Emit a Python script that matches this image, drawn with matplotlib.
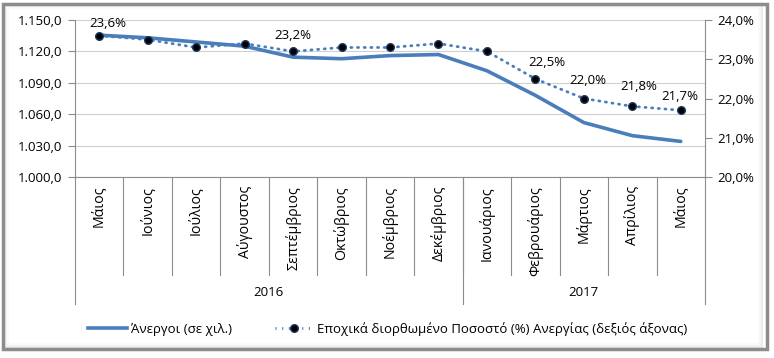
import numpy as np
import matplotlib.pyplot as plt
from matplotlib.patches import Rectangle
from matplotlib.lines import Line2D
from matplotlib.ticker import FuncFormatter

plt.rcParams['font.family'] = ['Open Sans', 'DejaVu Sans']

months = ['Μάιος', 'Ιούνιος', 'Ιούλιος', 'Αύγουστος', 'Σεπτέμβριος', 'Οκτώβριος',
          'Νοέμβριος', 'Δεκέμβριος', 'Ιανουάριος', 'Φεβρουάριος', 'Μάρτιος',
          'Απρίλιος', 'Μάιος']
years = ['2016', '2017']
year_counts = [8, 5]
unemployed = [1135.5, 1133.0, 1129.0, 1125.0, 1114.5, 1113.0, 1116.0, 1117.0,
              1101.5, 1078.0, 1052.0, 1039.5, 1034.0]
rate = [23.6, 23.5, 23.3, 23.4, 23.2, 23.3, 23.3, 23.4, 23.2, 22.5, 22.0, 21.8, 21.7]
labeled = [0, 4, 9, 10, 11, 12]
legend_names = ['Άνεργοι (σε χιλ.)',
                'Εποχικά διορθωμένο Ποσοστό (%) Ανεργίας (δεξιός άξονας)']

blue = '#4a7ebb'
fs = 9.5
dots = (0, (0.4, 2.0))

fig = plt.figure(figsize=(7.74, 3.58), dpi=100)
W, H = 774.0, 358.0

# frame with a soft shadow
for i, c in enumerate(['#e6e6e6', '#eeeeee', '#f5f5f5', '#fafafa']):
    fig.patches.append(Rectangle(((5 + i) / W, 1 - (347 - i) / H), (757 - 2 * i) / W,
                                 (342 - 2 * i) / H, transform=fig.transFigure,
                                 fill=False, ec=c, lw=1.2))
fig.patches.append(Rectangle((3.5 / W, 1 - 348.5 / H), 763 / W, 345 / H,
                             transform=fig.transFigure, fill=False, ec='#8c8c8c', lw=2.5))

ax = fig.add_axes([75 / W, 1 - 177 / H, 630 / W, 157 / H])
x = np.arange(len(months))
ax.plot(x, unemployed, color=blue, lw=2.6, solid_capstyle='round', zorder=3)
ax.set_xlim(-0.5, len(months) - 0.5)
ax.set_ylim(1000, 1150)
ax.set_yticks(np.arange(1000, 1151, 30))
ax.yaxis.set_major_formatter(FuncFormatter(
    lambda v, p: '{:,.1f}'.format(v).replace(',', 'X').replace('.', ',').replace('X', '.')))
ax.grid(axis='y', color='#d0d0d0', lw=0.8)
ax.set_axisbelow(True)
for s in ['top', 'right']:
    ax.spines[s].set_visible(False)
ax.spines['left'].set_color('#8c8c8c')
ax.spines['bottom'].set_color('#8c8c8c')
ax.tick_params(axis='y', colors='#8c8c8c', labelcolor='black', labelsize=fs, length=5, pad=4)
ax.set_xticks([])

ax2 = ax.twinx()
ax2.plot(x, rate, color=blue, lw=2, ls=dots, dash_capstyle='round',
         marker='o', ms=5.5, mfc='black', mec='#1f3864', mew=1, zorder=4)
ax2.set_ylim(20, 24)
ax2.set_yticks(np.arange(20, 24.01, 1))
ax2.yaxis.set_major_formatter(FuncFormatter(lambda v, p: '{:.1f}%'.format(v).replace('.', ',')))
for s in ['top', 'left', 'bottom']:
    ax2.spines[s].set_visible(False)
ax2.spines['right'].set_color('#8c8c8c')
ax2.tick_params(axis='y', colors='#8c8c8c', labelcolor='black', labelsize=fs, length=5, pad=4)
ax2.set_xlim(ax.get_xlim())

offsets = [(9, 12), (0, 16), (11, 16), (4, 18), (6, 20), (-1, 14)]
for i, off in zip(labeled, offsets):
    ax2.annotate('{:.1f}%'.format(rate[i]).replace('.', ','), (x[i], rate[i]),
                 xytext=off, textcoords='offset pixels', ha='center', va='center',
                 fontsize=fs, zorder=5)

# category labels and separators below the axis
tr = ax.get_xaxis_transform()
px = 1.0 / 157
for i, m in enumerate(months):
    ax.text(x[i], -9 * px, m, rotation=90, ha='center', va='top', fontsize=10.2,
            transform=tr, clip_on=False)
for i in range(1, len(months)):
    ax.plot([i - 0.5, i - 0.5], [0, -98 * px], color='#8c8c8c', lw=0.8,
            transform=tr, clip_on=False)
start = 0
bounds = [-0.5]
for yname, n in zip(years, year_counts):
    ax.text(start + (n - 1) / 2, -116 * px, yname, ha='center', va='center',
            fontsize=fs, transform=tr, clip_on=False)
    start += n
    bounds.append(start - 0.5)
for b in bounds:
    ax.plot([b, b], [0, -127 * px], color='#8c8c8c', lw=0.8, transform=tr, clip_on=False)

handles = [Line2D([], [], color=blue, lw=2.6),
           Line2D([], [], color=blue, lw=2, ls=dots, marker='o', ms=5.5,
                  mfc='black', mec='#1f3864')]
fig.legend(handles, legend_names, loc='center', bbox_to_anchor=(388 / W, 1 - 329 / H),
           ncol=2, frameon=False, fontsize=fs, handlelength=2.9, columnspacing=3.3,
           handletextpad=0.3, borderpad=0)

fig.savefig('out.png', dpi=100)
